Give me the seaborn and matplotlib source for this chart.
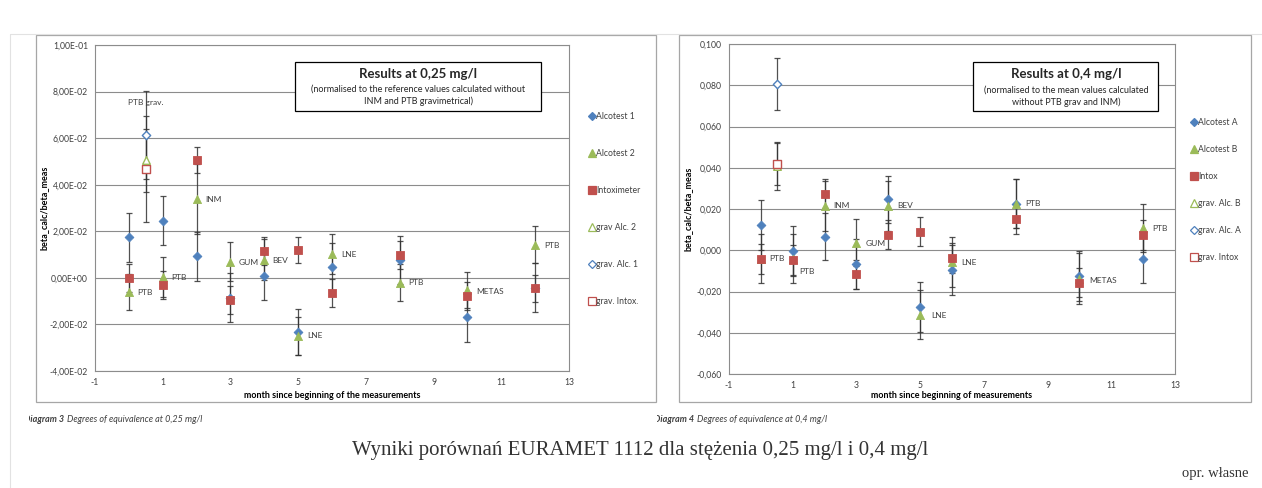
import matplotlib
matplotlib.use("Agg")
import numpy as np
import matplotlib.pyplot as plt
import seaborn as sns
from matplotlib.patches import Rectangle
from matplotlib.lines import Line2D
from matplotlib.ticker import FuncFormatter
from matplotlib.transforms import Bbox, TransformedBbox

W, H = 1262, 488

# miesiące pomiarów
months = [0, 1, 2, 3, 4, 5, 6, 8, 10, 12]
grav_month = [0.5]

# --- 0,25 mg/l ---
alc1_025 = [0.0175, 0.0245, 0.0092, -0.0085, 0.0006, -0.0233, 0.0046, 0.0077, -0.0169, -0.0045]
alc1_025_err = [0.0105, 0.0105, 0.0107, 0.0105, 0.0103, 0.0100, 0.0105, 0.0103, 0.0105, 0.0058]
alc2_025 = [-0.0061, 0.0003, 0.0338, 0.0070, 0.0077, -0.0249, 0.0102, -0.0020, -0.0052, 0.0143]
alc2_025_err = [0.0078, 0.0085, 0.0150, 0.0082, 0.0088, 0.0083, 0.0085, 0.0078, 0.0078, 0.0080]
intox_025 = [-0.0001, -0.0031, 0.0507, -0.0097, 0.0115, 0.0119, -0.0067, 0.0097, -0.0079, -0.0042]
intox_025_err = [0.0060, 0.0060, 0.0057, 0.0060, 0.0060, 0.0057, 0.0060, 0.0060, 0.0060, 0.0104]
grav_alc2_025, grav_alc2_025_err = [0.0504], [0.0135]
grav_alc1_025, grav_alc1_025_err = [0.0613], [0.0190]
grav_intox_025, grav_intox_025_err = [0.0467], [0.0226]

# --- 0,4 mg/l ---
alcA_04 = [0.0121, -0.0003, 0.0066, -0.0067, 0.0248, -0.0274, -0.0096, 0.0226, -0.0125, -0.0044]
alcA_04_err = [0.0122, 0.0120, 0.0115, 0.0120, 0.0114, 0.0120, 0.0120, 0.0120, 0.0120, 0.0116]
alcB_04 = [-0.0041, -0.0040, 0.0215, 0.0037, 0.0215, -0.0312, -0.0058, 0.0226, -0.0138, 0.0107]
alcB_04_err = [0.0120, 0.0120, 0.0120, 0.0115, 0.0120, 0.0120, 0.0120, 0.0120, 0.0124, 0.0116]
intox_04 = [-0.0042, -0.0046, 0.0275, -0.0117, 0.0076, 0.0089, -0.0039, 0.0150, -0.0157, 0.0073]
intox_04_err = [0.0072, 0.0072, 0.0070, 0.0070, 0.0070, 0.0070, 0.0072, 0.0072, 0.0070, 0.0072]
grav_alcB_04, grav_alcB_04_err = [0.0408], [0.0117]
grav_alcA_04, grav_alcA_04_err = [0.0807], [0.0125]
grav_intox_04, grav_intox_04_err = [0.0417], [0.0102]

# podpisy punktów (x, y, tekst)
labels_025 = [(0.5, 0.0752, "PTB grav."), (2.26, 0.0338, "INM"), (0.24, -0.0061, "PTB"),
              (1.25, 0.0003, "PTB"), (3.25, 0.0068, "GUM"), (4.25, 0.0075, "BEV"),
              (5.27, -0.0247, "LNE"), (6.27, 0.0100, "LNE"), (8.26, -0.0022, "PTB"),
              (10.27, -0.0058, "METAS"), (12.27, 0.0141, "PTB")]
labels_04 = [(0.26, -0.0042, "PTB"), (1.21, -0.0105, "PTB"), (2.27, 0.0215, "INM"),
             (3.28, 0.0034, "GUM"), (4.28, 0.0215, "BEV"), (5.34, -0.0314, "LNE"),
             (6.28, -0.0060, "LNE"), (8.31, 0.0226, "PTB"), (10.3, -0.0146, "METAS"),
             (12.3, 0.0107, "PTB")]

BLUE, GREEN, RED = "#4F81BD", "#9BBB59", "#C0504D"
GRID = "#8c8c8c"
TXT = "#404040"

sns.set_style("white")
plt.rcParams['font.family'] = ['Lato', 'DejaVu Sans']
plt.rcParams['axes.unicode_minus'] = False

fig = plt.figure(figsize=(W / 100, H / 100), dpi=100)


def fx(x):
    return x / W


def fy(y):
    return 1 - y / H


def make_axes(x0, x1, y0, y1):
    return fig.add_axes([fx(x0), fy(y1), (x1 - x0) / W, (y1 - y0) / H])


def draw_series(ax, x, y, err, color, marker, size, hollow=False):
    ax.errorbar(x, y, yerr=err, fmt='none', ecolor='#333333', elinewidth=0.9,
                capsize=2, capthick=0.9, zorder=2, alpha=0.85)
    sns.scatterplot(x=x, y=y, ax=ax, marker=marker, s=size,
                    color='white' if hollow else color, edgecolor=color,
                    linewidth=1.0 if hollow else 0.6, zorder=3, legend=False)


def style_axes(ax, ymin, ymax, fmt):
    ax.set_xlim(-1, 13)
    ax.set_ylim(ymin, ymax)
    ax.set_xticks(np.arange(-1, 14, 2))
    ax.set_yticks(np.arange(ymin, ymax + 1e-9, 0.02))
    ax.yaxis.set_major_formatter(FuncFormatter(fmt))
    ax.yaxis.grid(True, color=GRID, lw=0.8)
    ax.set_axisbelow(True)
    for s in ax.spines.values():
        s.set_color(GRID)
        s.set_linewidth(0.8)
    ax.tick_params(direction='out', length=3, width=0.8, color=GRID,
                   labelsize=6.2, labelcolor=TXT, pad=2)
    ax.set_xlabel("")
    ax.set_ylabel("")


def fmt_sci(v, pos):
    return f"{v:.2E}".replace(".", ",")


def fmt_dec(v, pos):
    if abs(v) < 1e-9:
        v = 0.0
    return f"{v:.3f}".replace(".", ",")


def legend_handles(names, specs):
    hs = []
    for n, (c, m, ms, hollow) in zip(names, specs):
        hs.append(Line2D([], [], ls='none', marker=m, markersize=ms, color=c,
                         markerfacecolor='white' if hollow else c,
                         markeredgecolor=c, markeredgewidth=0.9, label=n))
    return hs


# ramki wykresów i strony
fig.add_artist(Line2D([fx(10), fx(10)], [fy(34), fy(488)], color='#e2e2e2', lw=0.8))
fig.add_artist(Line2D([fx(10), 1], [fy(34), fy(34)], color='#e2e2e2', lw=0.8))
for (x0, x1) in [(36, 656), (679, 1251)]:
    fig.add_artist(Rectangle((fx(x0), fy(402)), (x1 - x0) / W, (402 - 35) / H,
                             transform=fig.transFigure, fill=False,
                             edgecolor='#a6a6a6', lw=0.9))

# ---------- wykres lewy: 0,25 mg/l ----------
ax1 = make_axes(95, 569, 45, 371)
draw_series(ax1, months, alc1_025, alc1_025_err, BLUE, 'D', 20)
draw_series(ax1, months, alc2_025, alc2_025_err, GREEN, '^', 34)
draw_series(ax1, months, intox_025, intox_025_err, RED, 's', 40)
draw_series(ax1, grav_month, grav_intox_025, grav_intox_025_err, RED, 's', 34, True)
draw_series(ax1, grav_month, grav_alc2_025, grav_alc2_025_err, GREEN, '^', 30, True)
draw_series(ax1, grav_month, grav_alc1_025, grav_alc1_025_err, BLUE, 'D', 18, True)
style_axes(ax1, -0.04, 0.1, fmt_sci)
for x, y, t in labels_025:
    ax1.text(x, y, t, fontsize=6, color=TXT, va='center',
             ha='center' if t == "PTB grav." else 'left')

names1 = ["Alcotest 1", "Alcotest 2", "Intoximeter", "grav Alc. 2", "grav. Alc. 1", "grav. Intox."]
specs1 = [(BLUE, 'D', 4.5, False), (GREEN, '^', 5.5, False), (RED, 's', 5.5, False),
          (GREEN, '^', 5.5, True), (BLUE, 'D', 4.5, True), (RED, 's', 5.5, True)]
fig.legend(handles=legend_handles(names1, specs1), loc='upper left',
           bbox_to_anchor=(fx(586), fy(109)), frameon=False, fontsize=6.2,
           labelspacing=3.25, handlelength=0.6, handletextpad=0.15,
           borderaxespad=0, labelcolor=TXT)

fig.text(fx(44), fy(208), "beta_calc/beta_meas", rotation=90, fontsize=6.5,
         fontweight='bold', color='black', ha='center', va='center')
fig.text(fx(332), fy(396), "month since beginning of the measurements", fontsize=6.5,
         fontweight='bold', color='black', ha='center', va='center')

fig.add_artist(Rectangle((fx(295), fy(111)), (541 - 295) / W, (111 - 62) / H,
                         transform=fig.transFigure, facecolor='white',
                         edgecolor='black', lw=0.9, zorder=5))
fig.text(fx(418), fy(74), "Results at 0,25 mg/l", fontsize=9.5, fontweight='bold',
         ha='center', va='center', zorder=6)
fig.text(fx(418), fy(89), "(normalised to the reference values calculated without",
         fontsize=6.5, ha='center', va='center', zorder=6)
fig.text(fx(418), fy(101), "INM and PTB gravimetrical)", fontsize=6.5,
         ha='center', va='center', zorder=6)

# ---------- wykres prawy: 0,4 mg/l ----------
ax2 = make_axes(729, 1175, 44, 374)
draw_series(ax2, months, alcA_04, alcA_04_err, BLUE, 'D', 20)
draw_series(ax2, months, alcB_04, alcB_04_err, GREEN, '^', 34)
draw_series(ax2, months, intox_04, intox_04_err, RED, 's', 40)
draw_series(ax2, grav_month, grav_alcB_04, grav_alcB_04_err, GREEN, '^', 30, True)
draw_series(ax2, grav_month, grav_intox_04, grav_intox_04_err, RED, 's', 34, True)
draw_series(ax2, grav_month, grav_alcA_04, grav_alcA_04_err, BLUE, 'D', 18, True)
style_axes(ax2, -0.06, 0.1, fmt_dec)
for x, y, t in labels_04:
    ax2.text(x, y, t, fontsize=6, color=TXT, va='center', ha='left')

names2 = ["Alcotest A", "Alcotest B", "Intox", "grav. Alc. B", "grav. Alc. A", "grav. Intox"]
specs2 = [(BLUE, 'D', 4.5, False), (GREEN, '^', 5.5, False), (RED, 's', 5.5, False),
          (GREEN, '^', 5.5, True), (BLUE, 'D', 4.5, True), (RED, 's', 5.5, True)]
fig.legend(handles=legend_handles(names2, specs2), loc='upper left',
           bbox_to_anchor=(fx(1188), fy(115)), frameon=False, fontsize=6.2,
           labelspacing=2.07, handlelength=0.6, handletextpad=0.15,
           borderaxespad=0, labelcolor=TXT)

fig.text(fx(688), fy(209), "beta_calc/beta_meas", rotation=90, fontsize=6.5,
         fontweight='bold', color='black', ha='center', va='center')
fig.text(fx(952), fy(396), "month since beginning of measurements", fontsize=6.5,
         fontweight='bold', color='black', ha='center', va='center')

fig.add_artist(Rectangle((fx(973), fy(111)), (1158 - 973) / W, (111 - 62) / H,
                         transform=fig.transFigure, facecolor='white',
                         edgecolor='black', lw=0.9, zorder=5))
fig.text(fx(1066), fy(74), "Results at 0,4 mg/l", fontsize=9.5, fontweight='bold',
         ha='center', va='center', zorder=6)
fig.text(fx(1066), fy(90), "(normalised to the mean values calculated",
         fontsize=6.5, ha='center', va='center', zorder=6)
fig.text(fx(1066), fy(102), "without PTB grav and INM)", fontsize=6.5,
         ha='center', va='center', zorder=6)

# ---------- podpisy ----------
fig.canvas.draw()


def diagram_caption(x, y, head, rest, clip_x):
    clip = TransformedBbox(Bbox.from_extents(fx(clip_x), 0, 1, 1), fig.transFigure)
    t1 = fig.text(fx(x), fy(y), head, fontsize=6.5, fontweight='bold',
                  fontstyle='italic', color=TXT, va='center')
    t1.set_clip_box(clip)
    t1.set_clip_on(True)
    bb = t1.get_window_extent(renderer=fig.canvas.get_renderer())
    fig.text(bb.x1 / W + fx(2.5), fy(y), rest, fontsize=6.5, fontstyle='italic',
             color=TXT, va='center')


diagram_caption(24, 420, "Diagram 3", "Degrees of equivalence at 0,25 mg/l", 29)
diagram_caption(654, 420, "Diagram 4", "Degrees of equivalence at 0,4 mg/l", 657)

fig.text(fx(640), fy(451), "Wyniki porównań EURAMET 1112 dla stężenia 0,25 mg/l i 0,4 mg/l",
         fontsize=15, family=['Liberation Serif', 'DejaVu Serif'], color='#333333',
         ha='center', va='center')
fig.text(fx(1248), fy(474), "opr. własne", fontsize=10.5,
         family=['Liberation Serif', 'DejaVu Serif'], color='#333333',
         ha='right', va='center')

fig.savefig("out.png", dpi=100)
